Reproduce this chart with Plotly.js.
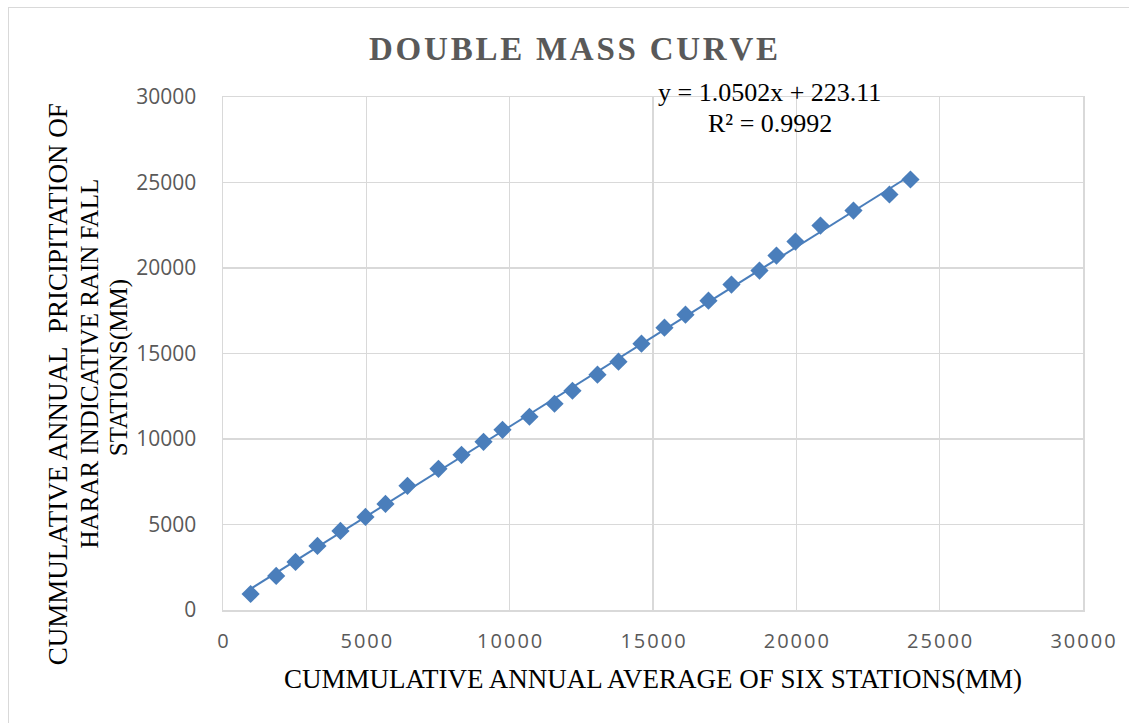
<!DOCTYPE html>
<html>
<head>
<meta charset="utf-8">
<script src="https://cdn.plot.ly/plotly-3.0.1.min.js"></script>
<style>
  html, body { margin: 0; padding: 0; background: #ffffff; overflow: hidden; }
  #frame { position: absolute; left: 8px; top: 7px; width: 1130px; height: 730px; border: 1px solid #d9d9d9; box-sizing: border-box; }
  #chart { position: absolute; left: 0; top: 0; width: 1129px; height: 723px; }
</style>
</head>
<body>
<div id="frame"></div>
<div id="chart"></div>
<script>
// Cumulative annual average of six stations (mm)
const xAverage = [963, 1855, 2530, 3295, 4097, 4970, 5668, 6435, 7516, 8320, 9088, 9750, 10690, 11565, 12190, 13063, 13796, 14598, 15400, 16133, 16935, 17737, 18714, 19307, 19970, 20842, 21993, 23248, 23981];
// Cumulative annual precipitation of Harar indicative rain fall stations (mm)
const yHarar = [937, 1990, 2810, 3747, 4625, 5445, 6206, 7260, 8255, 9075, 9836, 10539, 11300, 12061, 12822, 13759, 14520, 15574, 16510, 17272, 18091, 19028, 19847, 20726, 21546, 22482, 23360, 24297, 25176];
// Trendline coefficients
const slope = 1.0502;
const intercept = 223.11;
const rSquared = 0.9992;
const tickVals = [0, 5000, 10000, 15000, 20000, 25000, 30000];
const chartTitle = 'DOUBLE MASS CURVE';

const xMin = Math.min(...xAverage), xMax = Math.max(...xAverage);
const trendX = [xMin, xMax];
const trendY = trendX.map(v => slope * v + intercept);

const blue = '#4a7ebb';
const grid = '#d9d9d9';
const serif = '"Liberation Serif", "Times New Roman", serif';
const sans = '"Open Sans", "Liberation Sans", sans-serif';
const spaced = s => s.split('').join('\u200A');

const traces = [
  { x: trendX, y: trendY, mode: 'lines', line: { color: blue, width: 2 }, hoverinfo: 'skip', showlegend: false },
  { x: xAverage, y: yHarar, mode: 'markers', marker: { symbol: 'diamond', size: 14, color: blue }, showlegend: false }
];

const layout = {
  width: 1129, height: 723,
  paper_bgcolor: 'rgba(0,0,0,0)', plot_bgcolor: '#ffffff',
  margin: { l: 223, r: 46, t: 97, b: 113 },
  showlegend: false,
  title: {
    text: '<b>' + spaced(chartTitle) + '</b>',
    font: { family: serif, size: 33, color: '#595959' },
    x: 0.508, xanchor: 'center', y: 0.933, yanchor: 'middle'
  },
  xaxis: {
    range: [0, 30000], tickvals: tickVals, ticktext: tickVals.map(v => spaced(String(v))),
    showgrid: true, gridcolor: grid, gridwidth: 1.5, zeroline: false,
    showline: true, linecolor: grid, linewidth: 1.5, mirror: true,
    ticks: '', ticklabelstandoff: 12,
    tickfont: { family: sans, size: 20, color: '#595959' },
    title: { text: 'CUMMULATIVE ANNUAL AVERAGE OF SIX STATIONS(MM)', font: { family: serif, size: 27, color: '#000000' }, standoff: 16 }
  },
  yaxis: {
    range: [0, 30000], tickvals: tickVals, ticktext: tickVals.map(String),
    showgrid: true, gridcolor: grid, gridwidth: 1.5, zeroline: false,
    showline: true, linecolor: grid, linewidth: 1.5, mirror: true,
    ticks: '', ticklabelstandoff: 21,
    tickfont: { family: sans, size: 21, color: '#595959' }
  },
  annotations: [
    { text: 'CUMMULATIVE ANNUAL\u00a0 PRICIPITATION OF', xref: 'paper', yref: 'paper', x: -0.192, y: 0.44, textangle: -90, showarrow: false, xanchor: 'center', yanchor: 'middle', font: { family: serif, size: 27, color: '#000' } },
    { text: 'HARAR INDICATIVE RAIN FALL', xref: 'paper', yref: 'paper', x: -0.155, y: 0.48, textangle: -90, showarrow: false, xanchor: 'center', yanchor: 'middle', font: { family: serif, size: 25, color: '#000' } },
    { text: 'STATIONS(MM)', xref: 'paper', yref: 'paper', x: -0.12, y: 0.473, textangle: -90, showarrow: false, xanchor: 'center', yanchor: 'middle', font: { family: serif, size: 25, color: '#000' } },
    { text: 'y = ' + slope.toFixed(4) + 'x + ' + intercept.toFixed(2), xref: 'paper', yref: 'paper', x: 0.636, y: 1.0095, showarrow: false, xanchor: 'center', yanchor: 'middle', font: { family: serif, size: 26, color: '#000' } },
    { text: 'R² = ' + rSquared.toFixed(4), xref: 'paper', yref: 'paper', x: 0.636, y: 0.949, showarrow: false, xanchor: 'center', yanchor: 'middle', font: { family: serif, size: 26, color: '#000' } }
  ]
};

Plotly.newPlot('chart', traces, layout, { displayModeBar: false, staticPlot: true });
</script>
</body>
</html>
